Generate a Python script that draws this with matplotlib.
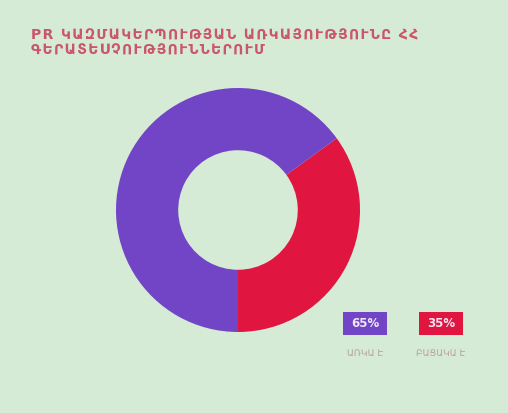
import matplotlib
matplotlib.use("Agg")
import matplotlib.pyplot as plt
from matplotlib.patches import FancyBboxPatch

# Data
categories = ["ԱՌԿԱ Է", "ԲԱՑԱԿԱ Է"]
shares = [65, 35]
colors = ["#7145c6", "#e01640"]
title_lines = ["PR ԿԱԶՄԱԿԵՐՊՈՒԹՅԱՆ ԱՌԿԱՅՈՒԹՅՈՒՆԸ ՀՀ",
               "ԳԵՐԱՏԵՍՉՈՒԹՅՈՒՆՆԵՐՈՒՄ"]

bg = "#d6ebd5"
W, H = 508, 413
fig = plt.figure(figsize=(W / 100, H / 100), dpi=100, facecolor=bg)


def tracked(s, gap="\u200a"):
    """Loosen letter spacing of a heading with hair spaces."""
    return gap.join(s)


# Title
for i, line in enumerate(title_lines):
    fig.text(31 / W, 1 - (35 + 16 * i) / H, tracked(line), fontsize=10,
             fontweight="bold", color="#c9566a", family="DejaVu Sans",
             va="center", ha="left")

# Donut
cx, cy, r = 238, 210, 122
ax = fig.add_axes([(cx - r) / W, 1 - (cy + r) / H, 2 * r / W, 2 * r / H])
ax.set_facecolor(bg)
ax.pie(shares[::-1], colors=colors[::-1], startangle=-90, counterclock=True,
       radius=1.0, wedgeprops=dict(width=0.51, linewidth=0))
ax.set_xlim(-1, 1)
ax.set_ylim(-1, 1)
ax.set_aspect("equal")
ax.axis("off")

# Legend badges with percentages and labels
lax = fig.add_axes([0, 0, 1, 1], facecolor="none")
lax.set_xlim(0, W)
lax.set_ylim(H, 0)
lax.axis("off")
badge_x = [343, 419]
for x0, val, col, lab in zip(badge_x, shares, colors, categories):
    lax.add_patch(FancyBboxPatch((x0, 312), 44, 23, boxstyle="square,pad=0",
                                 facecolor=col, edgecolor="none"))
    lax.text(x0 + 22, 323.5, f"{val}%", color="#efe6f4", fontsize=8.5,
             fontweight="bold", ha="center", va="center")
    lax.text(x0 + 22, 353, lab, color="#b9a09f", fontsize=6.5,
             ha="center", va="center")

fig.savefig("out.png", dpi=100, facecolor=bg)
